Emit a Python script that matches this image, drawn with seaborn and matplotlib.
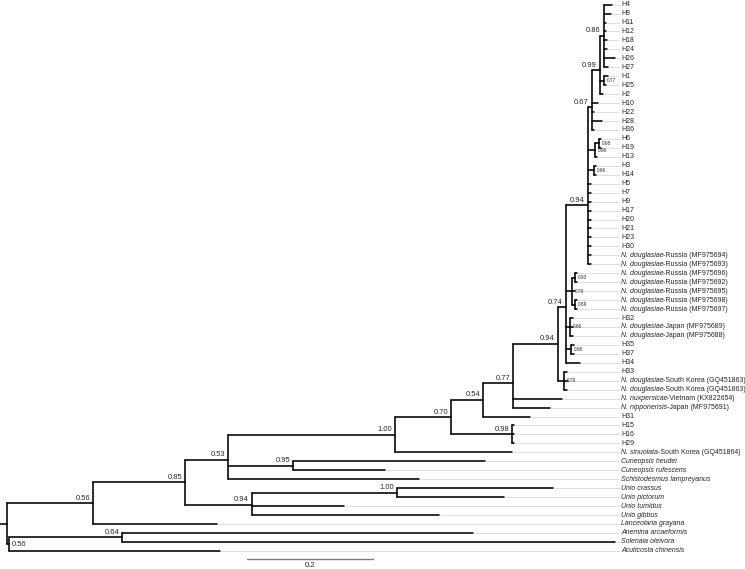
import matplotlib
matplotlib.use("Agg")
import matplotlib.pyplot as plt
import seaborn as sns
import pandas as pd
import numpy as np

# tree pieces in newick, branch lengths in substitutions/site, support as node label
# a trailing * marks supports printed small next to the node
clade_086 = "(H4:0.0127,H8:0.0111,H11:0.0032,H12:0.0032,H18:0.0048,H24:0.0048,H26:0.0175,H27:0.0063)0.86:0.0063"
clade_099 = "(" + clade_086 + ",(H1:0.0063,H25:0.0032)0.77*:0.0063,H2:0.0048)0.99:0.0127"
clade_067 = "(" + clade_099 + ",H10:0.0095,H22:0.0032,H28:0.0159,H36:0.0032)0.67:0.0063"
clade_094a = ("(" + clade_067 + ",((H6:0.0032,H19:0.0032)0.68*:0.0063,H13:0.0032)0.96*:0.0111,"
              "(H3:0.0032,H14:0.0032)0.66*:0.0095,H5:0.0048,H7:0.0048,H9:0.0048,H17:0.0048,"
              "H20:0.0048,H21:0.0048,H23:0.0048,H30:0.0048,R694:0.0048,R693:0.0048)0.94:0.0349")
clade_russia = "((R696:0.0032,R692:0.0032)0.93*:0.0048,R695:0.0048,(R698:0.0032,R697:0.0032)0.89*:0.0048)0.79*:0.0095"
clade_074 = ("(" + clade_094a + "," + clade_russia + ",(H32:0.0048,J689:0.0048,J688:0.0048)0.66*:0.0063,"
             "(H35:0.0048,H37:0.0048)0.98*:0.0079,H34:0.0222)0.74:0.0127")
clade_094b = "(" + clade_074 + ",(H33:0.0048,K863a:0.0063,K863b:0.0048)0.79*:0.0095)0.94:0.0714"
clade_077 = "(" + clade_094b + ",VN654:0.0778,JP691:0.0587)0.77:0.0476"
clade_054 = "(" + clade_077 + ",H31:0.0746)0.54:0.0508"
clade_070 = "(" + clade_054 + ",(H15:0.0032,H16:0.0032,H29:0.0032)0.98:0.0968)0.70:0.0889"
clade_100n = "(" + clade_070 + ",SK864:0.1857)1.00:0.2651"
clade_053 = "(" + clade_100n + ",(CH:0.3048,CR:0.1460)0.95:0.1032,SL:0.3032)0.53:0.0683"
clade_094u = "((UC:0.2476,UP:0.1698)1.00:0.2302,UT:0.1460,UG:0.2968)0.94:0.1063"
clade_085 = "(" + clade_053 + "," + clade_094u + ")0.85:0.1460"
tree_str = ("((" + clade_085 + ",LG:0.1968)0.56:0.1365,"
            "((AA:0.5571,SO:0.7825)0.64:0.1794,AC:0.3349)0.56:0.0032);")

display_names = {
    "R694": "N. douglasiae-Russia (MF975694)", "R693": "N. douglasiae-Russia (MF975693)",
    "R696": "N. douglasiae-Russia (MF975696)", "R692": "N. douglasiae-Russia (MF975692)",
    "R695": "N. douglasiae-Russia (MF975695)", "R698": "N. douglasiae-Russia (MF975698)",
    "R697": "N. douglasiae-Russia (MF975697)",
    "J689": "N. douglasiae-Japan (MF975689)", "J688": "N. douglasiae-Japan (MF975688)",
    "K863a": "N. douglasiae-South Korea (GQ451863)", "K863b": "N. douglasiae-South Korea (GQ451863)",
    "VN654": "N. nuxpersicae-Vietnam (KX822654)", "JP691": "N. nipponensis-Japan (MF975691)",
    "SK864": "N. sinuolata-South Korea (GQ451864)",
    "CH": "Cuneopsis heudei", "CR": "Cuneopsis rufescens", "SL": "Schistodesmus lampreyanus",
    "UC": "Unio crassus", "UP": "Unio pictorum", "UT": "Unio tumidus", "UG": "Unio gibbus",
    "LG": "Lanceolaria grayana", "AA": "Anemina arcaeformis", "SO": "Solenaia oleivora",
    "AC": "Acuticosta chinensis",
}
scale_len = 0.2


def parse(s):
    pos = [0]

    def node():
        kids = []
        if s[pos[0]] == "(":
            pos[0] += 1
            kids.append(node())
            while s[pos[0]] == ",":
                pos[0] += 1
                kids.append(node())
            pos[0] += 1
        start = pos[0]
        while s[pos[0]] not in ":,);":
            pos[0] += 1
        label = s[start:pos[0]]
        length = 0.0
        if s[pos[0]] == ":":
            pos[0] += 1
            start = pos[0]
            while s[pos[0]] not in ",);":
                pos[0] += 1
            length = float(s[start:pos[0]])
        return {"label": label, "length": length, "children": kids}

    return node()


root = parse(tree_str)

# layout in pixel space (axes = figure pixels)
X0, PX = 7.0, 630.0
Y0, DY = 4.6, 8.955
leaves = []


def layout(n, x):
    n["x"] = x
    if not n["children"]:
        n["y"] = Y0 + DY * len(leaves)
        leaves.append(n)
    else:
        for c in n["children"]:
            layout(c, x + c["length"] * PX)
        n["y"] = np.mean([c["y"] for c in n["children"]])


layout(root, X0)

branch_rows, guide_rows = [], []
k = [0]


def seg(rows, xs, ys):
    for xx, yy in zip(xs, ys):
        rows.append({"seg": k[0], "x": xx, "y": yy})
    k[0] += 1


internal = []


def collect(n):
    if n["children"]:
        ys = [c["y"] for c in n["children"]]
        seg(branch_rows, [n["x"], n["x"]], [min(ys), max(ys)])
        internal.append(n)
        for c in n["children"]:
            seg(branch_rows, [n["x"], c["x"]], [c["y"], c["y"]])
            collect(c)


collect(root)
seg(branch_rows, [0, X0], [root["y"], root["y"]])

LABEL_X = 621
for lf in leaves:
    if lf["x"] < LABEL_X - 3:
        seg(guide_rows, [lf["x"] + 1, LABEL_X - 2], [lf["y"], lf["y"]])

sns.set_theme(style="white")
plt.rcParams["font.family"] = ["Liberation Sans", "DejaVu Sans"]

fig = plt.figure(figsize=(7.45, 5.69), dpi=100)
ax = fig.add_axes([0, 0, 1, 1])

sns.lineplot(data=pd.DataFrame(guide_rows), x="x", y="y", units="seg", estimator=None,
             sort=False, color="#d8d8d8", lw=0.6, ax=ax, legend=False)
sns.lineplot(data=pd.DataFrame(branch_rows), x="x", y="y", units="seg", estimator=None,
             sort=False, color="black", lw=1.15, ax=ax, legend=False)

ax.set_xlim(0, 745)
ax.set_ylim(569, 0)
ax.axis("off")

renderer = fig.canvas.get_renderer()
FS = 5.0
for lf in leaves:
    name = display_names.get(lf["label"], lf["label"])
    if name.startswith("N. "):
        sp, rest = name.split("-", 1)
        t = ax.text(LABEL_X, lf["y"], sp, style="italic", fontsize=FS, va="center", ha="left")
        x1 = t.get_window_extent(renderer=renderer).x1
        ax.text(x1 - 0.3, lf["y"], "-" + rest, fontsize=FS, va="center", ha="left")
    elif name[0] == "H":
        ax.text(LABEL_X, lf["y"], name, fontsize=FS, va="center", ha="left")
    else:
        ax.text(LABEL_X, lf["y"], name, style="italic", fontsize=FS, va="center", ha="left")

for n in internal:
    lab = n["label"]
    if not lab:
        continue
    if lab.endswith("*"):
        ax.text(n["x"] + 2.5, n["y"], lab[:-1], fontsize=3.4, va="center", ha="left")
    elif n is root["children"][1]:
        ax.text(n["x"] + 3, n["y"], lab, fontsize=5.4, va="center", ha="left")
    else:
        ax.text(n["x"] - 3, n["y"] - 1.5, lab, fontsize=5.4, va="bottom", ha="right")

# scale bar
sx0 = 247
ax.plot([sx0, sx0 + scale_len * PX], [558.5, 558.5], color="#7a7a7a", lw=1.0)
ax.text(sx0 + scale_len * PX / 2, 562, "0.2", fontsize=5.6, ha="center", va="top")

fig.savefig("out.png", dpi=100)
